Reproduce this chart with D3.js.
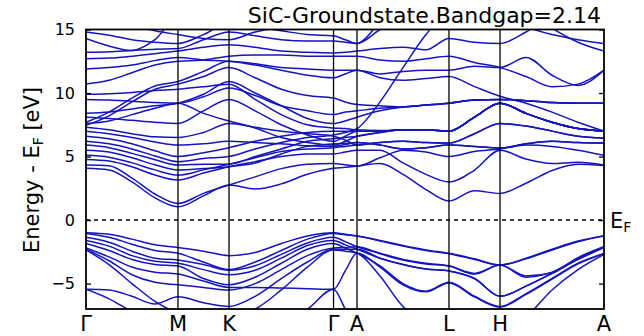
<!DOCTYPE html>
<html>
<head>
<meta charset="utf-8">
<script src="https://cdn.jsdelivr.net/npm/d3@7"></script>
<style>
  html, body { margin: 0; padding: 0; background: #fff; }
  svg { display: block; }
  text { font-family: "DejaVu Sans", sans-serif; fill: #000; }
</style>
</head>
<body>
<svg id="chart" width="644" height="336"></svg>
<script>
// High-symmetry path (cumulative k-distance) and labels
const kTicks = [0, 0.881, 1.370, 2.371, 2.596, 3.477, 3.966, 4.962];
const kLabels = ["Γ", "M", "K", "Γ", "A", "L", "H", "A"];
// number of sampled intervals in each path segment
const segmentSteps = [4, 2, 4, 2, 4, 2, 4];

const yTicks = [15, 10, 5, 0, -5];
const titleText = "SiC-Groundstate.Bandgap=2.14";

// Valence bands (eV relative to E_F), one value per sampled k-point
const valenceBands = [
  [-1.00,-1.12,-1.50,-1.95,-2.15,-2.45,-2.80,-2.55,-1.85,-1.25,-1.00,-1.12,-1.26,-1.60,-2.00,-2.35,-2.62,-3.05,-3.54,-3.00,-2.30,-1.65,-1.23],
  [-1.05,-1.35,-1.90,-2.40,-2.62,-3.30,-3.90,-3.30,-2.40,-1.50,-1.05,-1.15,-1.26,-1.65,-2.05,-2.40,-2.65,-3.10,-3.54,-3.05,-2.35,-1.70,-1.25],
  [-1.36,-1.75,-2.45,-3.00,-3.15,-3.50,-3.95,-3.60,-2.70,-1.80,-1.36,-1.70,-2.10,-2.60,-3.10,-3.40,-3.60,-4.25,-3.54,-4.50,-4.10,-3.00,-2.10],
  [-1.60,-2.05,-2.80,-3.25,-3.40,-3.90,-4.30,-3.95,-3.00,-2.00,-1.60,-1.95,-2.30,-3.00,-3.50,-3.85,-4.00,-4.60,-6.00,-5.20,-4.20,-3.10,-2.15],
  [-1.85,-2.40,-3.10,-3.50,-3.62,-4.60,-5.10,-4.50,-3.40,-2.30,-1.85,-2.20,-2.60,-3.60,-5.00,-5.60,-4.90,-6.00,-6.80,-5.80,-4.60,-3.40,-2.63],
  [-2.20,-2.90,-3.70,-4.10,-4.25,-4.80,-5.30,-5.30,-5.35,-5.40,-5.45,-4.00,-2.60,-3.70,-5.10,-5.65,-4.95,-6.05,-6.85,-5.85,-4.65,-3.45,-2.65],
  [-2.30,-3.20,-4.30,-4.90,-5.10,-5.30,-5.50,-5.00,-3.90,-2.80,-2.20,-2.15,-2.10,-2.65,-3.15,-3.45,-3.62,-4.20,-3.54,-4.40,-4.15,-2.95,-2.10],
  [-2.35,-3.50,-5.00,-6.40,-7.30,-7.60,-7.50,-7.00,-5.50,-3.70,-2.35,-2.45,-2.60,-4.40,-6.80,-8.00,-8.50,-8.50,-8.50,-7.60,-5.50,-3.90,-2.70],
  [-5.45,-5.50,-6.00,-6.60,-6.04,-6.50,-6.80,-6.00,-4.60,-3.30,-2.30,-2.30,-2.30,-3.00,-3.50,-3.85,-4.00,-4.60,-6.00,-5.20,-4.20,-3.10,-2.15],
  [-5.45,-6.20,-7.20,-8.00,-8.50,-8.50,-8.50,-8.50,-8.00,-7.00,-5.45,-7.00,-8.50,-8.50,-8.50,-8.50,-8.50,-8.50,-8.50,-8.50,-8.50,-8.50,-8.50]
];

// Conduction bands (eV relative to E_F)
const conductionBands = [
  [4.07,3.95,3.00,1.75,1.05,1.90,2.76,2.45,2.85,3.60,4.07,4.15,4.25,4.45,3.60,2.40,1.50,2.30,2.10,2.90,3.90,4.40,4.30],
  [4.33,4.28,3.30,2.05,1.30,2.10,2.76,3.40,4.05,4.40,4.46,4.35,4.25,4.90,5.50,5.35,5.00,5.40,5.60,5.90,5.80,5.50,5.10],
  [4.77,4.65,4.20,3.55,3.15,3.70,4.20,4.60,5.00,5.20,5.20,5.35,5.50,5.50,4.50,3.60,3.00,3.94,5.50,4.80,4.45,4.55,4.33],
  [5.10,4.95,4.50,3.95,3.54,3.95,4.40,4.90,5.40,5.60,5.70,5.80,5.90,6.10,6.20,6.10,6.06,6.80,7.60,7.40,7.00,6.60,6.46],
  [5.50,5.35,4.90,4.35,3.94,4.05,4.20,4.50,5.20,5.80,6.00,6.05,6.10,5.90,5.60,5.70,5.90,5.80,5.67,6.00,6.20,6.10,6.06],
  [5.90,5.70,5.25,4.75,4.33,4.40,4.40,5.00,5.60,6.20,6.40,6.50,6.60,6.90,7.10,7.10,7.00,8.10,9.20,8.40,7.70,7.20,7.00],
  [6.20,6.00,5.60,5.05,4.60,4.85,5.00,5.60,6.10,6.50,6.70,6.90,7.20,9.30,12.00,14.60,16.50,17.0,17.0,17.0,17.0,17.0,17.0],
  [6.60,6.40,6.00,5.45,5.00,5.30,5.70,6.20,6.60,6.90,7.00,7.00,7.00,7.00,7.10,7.10,7.00,8.10,9.20,8.40,7.70,7.20,7.00],
  [7.00,6.80,6.50,6.15,5.90,6.00,6.20,6.10,6.00,5.85,5.80,5.95,6.10,5.90,5.60,5.70,5.90,5.80,5.67,6.00,6.20,6.10,6.06],
  [7.30,7.10,6.80,6.55,6.50,6.90,7.60,7.30,7.00,6.80,6.60,6.30,5.90,6.10,6.20,6.10,6.06,6.80,7.60,7.40,7.00,6.60,6.46],
  [7.60,7.80,8.30,8.80,9.20,8.40,7.80,7.25,6.50,6.10,5.90,6.20,6.60,6.90,7.10,7.10,7.00,8.10,9.20,8.40,7.70,7.20,7.00],
  [8.10,8.00,7.85,7.70,7.60,8.60,9.50,8.60,7.50,6.70,6.20,6.60,7.00,7.00,7.10,7.10,7.00,8.10,9.20,8.40,7.70,7.20,7.00],
  [8.40,8.50,8.75,9.00,9.20,9.90,10.90,10.00,9.00,8.00,7.60,7.80,8.10,8.60,8.90,9.05,9.20,9.45,9.50,9.40,9.25,9.20,9.20],
  [9.50,9.45,9.35,9.25,9.20,9.70,10.40,9.80,9.00,8.60,8.30,8.50,8.60,8.80,8.90,9.05,9.20,9.45,9.50,9.40,9.25,9.20,9.20],
  [9.90,9.95,10.05,10.20,10.30,10.50,10.70,9.50,8.30,7.50,7.25,7.20,7.10,7.05,7.10,7.10,7.00,8.10,9.20,8.40,7.70,7.20,7.00],
  [7.45,8.20,9.30,10.30,10.70,11.30,12.00,11.20,10.30,9.80,9.60,9.30,9.10,9.00,8.90,9.05,9.20,9.45,9.50,9.40,9.25,9.20,9.20],
  [7.70,8.50,9.60,10.55,10.90,11.70,12.50,12.30,12.00,11.90,11.80,11.80,11.80,11.50,11.70,11.80,11.80,12.10,12.00,12.80,11.40,10.60,11.80],
  [10.70,11.00,11.60,12.20,12.50,12.60,12.90,13.00,13.00,12.90,12.90,12.90,12.90,12.60,12.50,12.70,12.90,12.40,12.00,11.30,10.50,10.70,11.80],
  [11.90,12.00,12.20,12.55,12.80,12.60,12.50,12.20,11.80,11.40,11.20,11.50,11.80,11.20,11.00,11.15,11.30,10.50,9.74,9.20,8.50,7.70,7.00],
  [12.70,12.75,12.90,13.10,13.30,13.60,13.80,13.60,13.30,13.20,13.15,13.20,13.30,13.50,13.60,13.40,14.30,14.00,13.90,14.80,16.00,16.00,16.00],
  [13.20,13.25,13.35,13.45,13.50,14.20,14.80,14.50,14.20,14.10,14.10,14.00,13.90,15.00,16.00,16.00,16.00,16.00,16.00,15.20,14.60,14.20,13.90],
  [14.80,14.55,14.20,14.00,13.90,14.60,15.50,15.20,14.90,14.60,14.50,14.20,13.90,15.50,16.50,16.50,16.50,16.50,16.50,16.50,15.10,14.00,13.30],
  [14.30,13.70,13.35,14.20,16.00,16.00,16.00,16.00,16.00,16.00,16.00,16.00,16.00,16.00,16.00,16.00,16.00,16.00,16.00,16.00,16.00,16.00,16.00],
  [16.50,16.00,15.40,14.90,14.60,14.30,14.20,14.80,15.20,15.50,16.00,16.00,16.00,16.00,16.00,16.00,16.00,16.00,16.00,16.00,16.00,16.00,16.00]
];

// k-coordinates of the sampled points along the path
const kSamples = [];
segmentSteps.forEach((n, s) => {
  for (let j = 0; j < n; j++) kSamples.push(kTicks[s] + (kTicks[s + 1] - kTicks[s]) * j / n);
});
kSamples.push(kTicks[kTicks.length - 1]);

const svg = d3.select("#chart");
const plot = { left: 86, right: 604, top: 29.5, bottom: 309 };

const x = d3.scaleLinear().domain([kTicks[0], kTicks[kTicks.length - 1]]).range([plot.left, plot.right]);
const y = d3.scaleLinear().domain([-7, 15]).range([plot.bottom, plot.top]);

svg.append("defs").append("clipPath").attr("id", "plotClip")
  .append("rect")
  .attr("x", plot.left).attr("y", plot.top)
  .attr("width", plot.right - plot.left).attr("height", plot.bottom - plot.top);

// band lines
const line = d3.line()
  .x((d, i) => x(kSamples[i]))
  .y(d => y(d))
  .curve(d3.curveMonotoneX);

const bandLayer = svg.append("g").attr("clip-path", "url(#plotClip)");
bandLayer.selectAll("path.band")
  .data(valenceBands.concat(conductionBands))
  .join("path")
  .attr("class", "band")
  .attr("d", line)
  .attr("fill", "none")
  .attr("stroke", "#1414c0")
  .attr("stroke-width", 1.5);

// Fermi level
svg.append("line")
  .attr("x1", plot.left).attr("x2", plot.right)
  .attr("y1", y(0)).attr("y2", y(0))
  .attr("stroke", "#000").attr("stroke-width", 1.4)
  .attr("stroke-dasharray", "4,4");

// high-symmetry lines
svg.append("g").selectAll("line")
  .data(kTicks.slice(1, -1))
  .join("line")
  .attr("x1", d => x(d)).attr("x2", d => x(d))
  .attr("y1", plot.top).attr("y2", plot.bottom)
  .attr("stroke", "#000").attr("stroke-width", 1.3);

// frame
svg.append("rect")
  .attr("x", plot.left).attr("y", plot.top)
  .attr("width", plot.right - plot.left).attr("height", plot.bottom - plot.top)
  .attr("fill", "none").attr("stroke", "#000").attr("stroke-width", 1.8);

// y axis with inward ticks on both sides
const yAxisLeft = d3.axisLeft(y).tickValues(yTicks).tickSizeInner(-5).tickSizeOuter(0).tickPadding(11)
  .tickFormat(d => d < 0 ? "\u2212" + Math.abs(d) : d);
const gl = svg.append("g").attr("transform", `translate(${plot.left},0)`).call(yAxisLeft);
gl.select(".domain").remove();
gl.selectAll(".tick line").attr("stroke", "#000").attr("stroke-width", 1.3);
gl.selectAll(".tick text").attr("font-size", 16).attr("font-family", "DejaVu Sans").attr("fill", "#000");

const yAxisRight = d3.axisRight(y).tickValues(yTicks).tickSizeInner(-5).tickSizeOuter(0).tickFormat("");
const gr = svg.append("g").attr("transform", `translate(${plot.right},0)`).call(yAxisRight);
gr.select(".domain").remove();
gr.selectAll(".tick line").attr("stroke", "#000").attr("stroke-width", 1.3);

// k-point labels
svg.append("g").selectAll("text")
  .data(kTicks)
  .join("text")
  .attr("x", d => x(d))
  .attr("y", 331)
  .attr("text-anchor", "middle")
  .attr("font-size", 21)
  .text((d, i) => kLabels[i]);

// title
svg.append("text")
  .attr("x", 601).attr("y", 23)
  .attr("text-anchor", "end")
  .attr("font-size", 22)
  .text(titleText);

// y label
const yl = svg.append("text")
  .attr("transform", "translate(39,170) rotate(-90)")
  .attr("text-anchor", "middle")
  .attr("font-size", 21);
yl.append("tspan").text("Energy - E");
yl.append("tspan").attr("font-size", 14).attr("dy", 4).text("F");
yl.append("tspan").attr("dy", -4).text(" [eV]");

// Fermi level label
const ef = svg.append("text").attr("x", 610).attr("y", y(0) + 8).attr("font-size", 21);
ef.append("tspan").text("E");
ef.append("tspan").attr("font-size", 14).attr("dy", 4).text("F");
</script>
</body>
</html>
